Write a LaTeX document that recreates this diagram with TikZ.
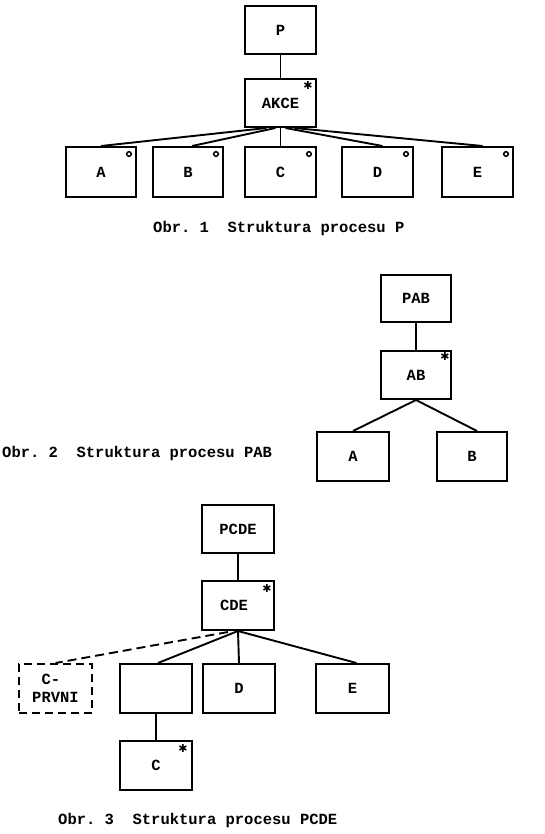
\documentclass[tikz,border=0pt]{standalone}
\usepackage{fontspec}
\setmainfont{Liberation Mono}
\newfontfamily\symfont{DejaVu Sans}
\usetikzlibrary{calc}
\frenchspacing
\begin{document}
\begin{tikzpicture}[x=1pt,y=-1pt,
  lab/.style={font=\fontsize{15.5}{18}\selectfont\bfseries},
  box/.style={draw, line width=2pt, minimum width=71pt, minimum height=48pt, inner sep=0pt, lab},
  conn/.style={line width=1.9pt},
  dconn/.style={line width=1.9pt, dash pattern=on 9pt off 5pt},
  ring/.style={line width=1.5pt},
  astx/.style={inner sep=0pt, anchor=north, font=\fontsize{11}{12}\selectfont\symfont\bfseries},
  captxt/.style={inner sep=0pt, anchor=west, font=\fontsize{15.5}{18}\selectfont\bfseries}]
\useasboundingbox (0,0) rectangle (545,834);
% ---------- Obr. 1
\node[box] (P) at (280.5,30.5) {P};
\node[box] (AKCE) at (280.5,103) {AKCE};
\node[box, minimum width=70pt, minimum height=50pt] (A1) at (101,172) {A};
\node[box, minimum width=70pt, minimum height=50pt] (B1) at (188,172) {B};
\node[box, minimum width=71pt, minimum height=50pt] (C1) at (280.5,172) {C};
\node[box, minimum width=71pt, minimum height=50pt] (D1) at (377.5,172) {D};
\node[box, minimum width=71pt, minimum height=50pt] (E1) at (477.5,172) {E};
\draw[conn] (P) -- (AKCE);
\draw[conn] ($(AKCE.south)+(-14,0)$) -- (A1.north);
\draw[conn] ($(AKCE.south)+(-5,0)$) -- ($(B1.north)+(4,0)$);
\draw[conn] (AKCE.south) -- (C1.north);
\draw[conn] ($(AKCE.south)+(5,0)$) -- ($(D1.north)+(5,0)$);
\draw[conn] ($(AKCE.south)+(14,0)$) -- ($(E1.north)+(5,0)$);
\node[astx] (sAKCE) at ($(AKCE.north east)+(-9,3)$) {✱};
\foreach \n in {A1,B1,C1,D1,E1}{
  \draw[ring] ($(\n.north east)+(-8,8)$) circle (2.3pt);
}
\node[captxt] (cap1) at (153,228) {Obr.~1~~Struktura procesu P};
% ---------- Obr. 2
\node[box, minimum width=70pt, minimum height=47pt] (PAB) at (416,298.5) {PAB};
\node[box, minimum width=70pt] (AB) at (416,375) {AB};
\node[box, minimum width=72pt, minimum height=49pt] (A2) at (353,456.5) {A};
\node[box, minimum width=70pt, minimum height=49pt] (B2) at (472,456.5) {B};
\draw[conn] (PAB) -- (AB);
\draw[conn] (AB.south) -- (A2.north);
\draw[conn] (AB.south) -- ($(B2.north)+(5,0)$);
\node[astx] (sAB) at ($(AB.north east)+(-7,2)$) {✱};
\node[captxt] (cap2) at (2,453) {Obr.~2~~Struktura procesu PAB};
% ---------- Obr. 3
\node[box, minimum width=72pt] (PCDE) at (238,529) {PCDE};
\node[box, minimum width=72pt, minimum height=49pt] (CDE) at (238,605.5) {\hspace*{-8pt}CDE};
\node[box, dash pattern=on 8pt off 5pt, minimum width=73pt, minimum height=49pt, align=left] (CP) at (55.5,688.5) {\hphantom{P}C-\\PRVNI};
\node[box, minimum width=72pt, minimum height=49pt] (X3) at (156,688.5) {};
\node[box, minimum width=72pt, minimum height=49pt] (D3) at (239,688.5) {D};
\node[box, minimum width=73pt, minimum height=49pt] (E3) at (352.5,688.5) {E};
\node[box, minimum width=72pt, minimum height=49pt] (C3) at (156,765.5) {C};
\draw[conn] (PCDE) -- (CDE);
\draw[dconn] ($(CDE.south)+(-10,1)$) -- (CP.north);
\draw[conn] (CDE.south) -- ($(X3.north)+(2,0)$);
\draw[conn] (CDE.south) -- (D3.north);
\draw[conn] (CDE.south) -- ($(E3.north)+(4,0)$);
\draw[conn] (X3) -- (C3);
\node[astx] (sCDE) at ($(CDE.north east)+(-8,4)$) {✱};
\node[astx] (sC) at ($(C3.north east)+(-10,4)$) {✱};
\node[captxt] (cap3) at (58,820) {Obr.~3~~Struktura procesu PCDE};
\end{tikzpicture}
\end{document}
